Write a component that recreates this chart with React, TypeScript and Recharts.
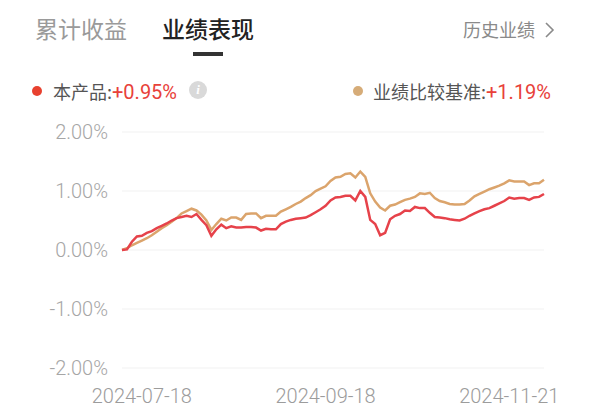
import React from "react";
import { CartesianGrid, Line, LineChart, XAxis, YAxis } from "recharts";

// 本产品 / 业绩比较基准, cumulative return in %
const productReturns = [
  0.0, 0.01, 0.14, 0.23, 0.24, 0.29, 0.32, 0.37, 0.41, 0.45, 0.5, 0.54, 0.56, 0.58, 0.56, 0.61,
  0.51, 0.42, 0.24, 0.35, 0.43, 0.37, 0.4, 0.38, 0.38, 0.39, 0.39, 0.38, 0.33, 0.36, 0.35, 0.35,
  0.44, 0.48, 0.51, 0.53, 0.54, 0.55, 0.59, 0.64, 0.69, 0.75, 0.84, 0.89, 0.9, 0.92, 0.92, 0.84,
  1.0, 0.9, 0.51, 0.44, 0.25, 0.29, 0.52, 0.58, 0.61, 0.67, 0.66, 0.73, 0.71, 0.71, 0.63, 0.56,
  0.55, 0.54, 0.52, 0.51, 0.5, 0.53, 0.58, 0.62, 0.66, 0.69, 0.71, 0.75, 0.79, 0.83, 0.89, 0.87,
  0.88, 0.88, 0.85, 0.89, 0.9, 0.95,
];
const benchmarkReturns = [
  0.0, 0.03, 0.08, 0.12, 0.16, 0.2, 0.25, 0.31, 0.37, 0.42, 0.48, 0.54, 0.62, 0.66, 0.7, 0.67,
  0.6, 0.5, 0.34, 0.44, 0.53, 0.5, 0.55, 0.55, 0.51, 0.61, 0.62, 0.62, 0.54, 0.58, 0.58, 0.58,
  0.65, 0.69, 0.73, 0.78, 0.82, 0.88, 0.93, 1.0, 1.04, 1.08, 1.17, 1.23, 1.24, 1.29, 1.3, 1.23,
  1.33, 1.24, 0.96, 0.82, 0.72, 0.67, 0.75, 0.77, 0.81, 0.85, 0.87, 0.9, 0.96, 0.95, 0.97, 0.88,
  0.83, 0.81, 0.78, 0.77, 0.77, 0.78, 0.84, 0.91, 0.95, 0.99, 1.03, 1.06, 1.09, 1.13, 1.18, 1.16,
  1.16, 1.16, 1.1, 1.13, 1.13, 1.19,
];
const tickIndexes = [4, 41, 78];
const tickDates = ["2024-07-18", "2024-09-18", "2024-11-21"];
const yTicks = [-2, -1, 0, 1, 2];

const data = productReturns.map((p, i) => ({
  i,
  product: p,
  benchmark: benchmarkReturns[i],
}));

const cjk = '"Noto Sans CJK SC", "Noto Sans", sans-serif';
const latin = 'Roboto, "Liberation Sans", Arial, sans-serif';

const RED = "#e6424a";
const GOLD = "#dba46c";

function Text({
  left,
  cy,
  size,
  color,
  weight = 400,
  children,
}: {
  left: number;
  cy: number;
  size: number;
  color: string;
  weight?: number;
  children: React.ReactNode;
}) {
  return (
    <div
      style={{
        position: "absolute",
        left,
        top: cy - 15,
        height: 30,
        lineHeight: "30px",
        fontSize: size,
        color,
        fontWeight: weight,
        fontFamily: cjk,
        whiteSpace: "nowrap",
      }}
    >
      {children}
    </div>
  );
}

export default function App() {
  return (
    <div
      style={{
        position: "absolute",
        left: 0,
        top: 0,
        width: 599,
        height: 416,
        background: "#fff",
        overflow: "hidden",
      }}
    >
      {/* tabs */}
      <Text left={35} cy={28} size={23} color="#9a9a9a">
        累计收益
      </Text>
      <Text left={162} cy={28} size={23} color="#222" weight={500}>
        业绩表现
      </Text>
      <div
        style={{ position: "absolute", left: 193, top: 52, width: 30, height: 4, background: "#333" }}
      />
      <Text left={463} cy={29} size={18} color="#8a8a8a">
        历史业绩
      </Text>
      <svg style={{ position: "absolute", left: 543, top: 21 }} width={12} height={18}>
        <polyline points="3,2 10,9 3,16" fill="none" stroke="#8a8a8a" strokeWidth={1.6} />
      </svg>

      {/* legend */}
      <div
        style={{
          position: "absolute",
          left: 32,
          top: 86,
          width: 10,
          height: 10,
          borderRadius: 5,
          background: "#e8412f",
        }}
      />
      <Text left={53} cy={91} size={18} color="#555">
        本产品:
        <span style={{ color: "#e8413a", fontFamily: latin, fontSize: 20 }}>+0.95%</span>
      </Text>
      <div
        style={{
          position: "absolute",
          left: 189,
          top: 81,
          width: 18,
          height: 18,
          borderRadius: 9,
          background: "#d9d9d9",
          color: "#fff",
          fontSize: 13,
          lineHeight: "18px",
          textAlign: "center",
          fontFamily: "serif",
          fontStyle: "italic",
          fontWeight: 700,
        }}
      >
        i
      </div>
      <div
        style={{
          position: "absolute",
          left: 353,
          top: 86,
          width: 10,
          height: 10,
          borderRadius: 5,
          background: "#d6ac78",
        }}
      />
      <Text left={373} cy={91} size={18} color="#555">
        业绩比较基准:
        <span style={{ color: "#e8413a", fontFamily: latin, fontSize: 20 }}>+1.19%</span>
      </Text>

      <div style={{ position: "absolute", left: 0, top: 0 }}>
        <LineChart
          width={599}
          height={416}
          data={data}
          margin={{ top: 132, right: 55, left: 0, bottom: 0 }}
        >
          <CartesianGrid vertical={false} stroke="#f1f1f1" strokeWidth={1} />
          <XAxis
            type="number"
            dataKey="i"
            domain={[0, productReturns.length - 1]}
            ticks={tickIndexes}
            tickFormatter={(v: number) => tickDates[tickIndexes.indexOf(v)] ?? ""}
            height={48}
            axisLine={false}
            tickLine={false}
            tickSize={0}
            tickMargin={21}
            interval={0}
            tick={{ fill: "#9c9c9c", fontSize: 20, fontFamily: latin, fontWeight: 300 }}
          />
          <YAxis
            domain={[-2, 2]}
            ticks={yTicks}
            width={122}
            axisLine={false}
            tickLine={false}
            tickSize={0}
            tickMargin={14}
            interval={0}
            tickFormatter={(v: number) => `${v.toFixed(2)}%`}
            tick={{ fill: "#a6a6a6", fontSize: 20, fontFamily: latin, fontWeight: 300 }}
          />
          <Line
            type="linear"
            dataKey="benchmark"
            stroke={GOLD}
            strokeWidth={2.5}
            dot={false}
            activeDot={false}
            isAnimationActive={false}
          />
          <Line
            type="linear"
            dataKey="product"
            stroke={RED}
            strokeWidth={2.5}
            dot={false}
            activeDot={false}
            isAnimationActive={false}
          />
        </LineChart>
      </div>
    </div>
  );
}
